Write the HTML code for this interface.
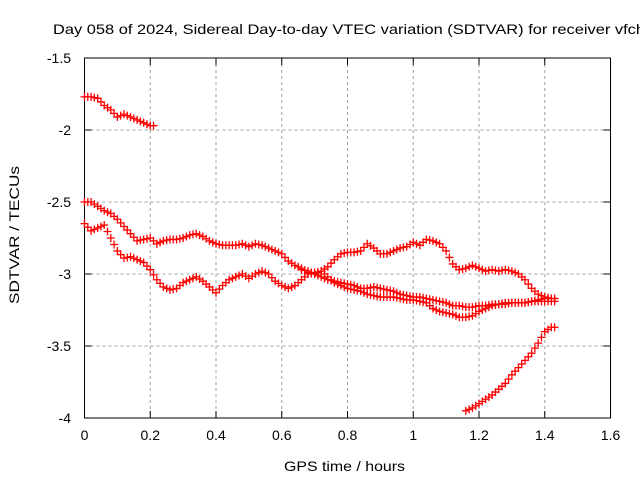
<!DOCTYPE html>
<html><head><meta charset="utf-8"><style>
body{margin:0;background:#fff;}
svg{display:block;font-family:"Liberation Sans",sans-serif;}
</style></head><body>
<svg id="c" width="640" height="480"></svg>
<script>
const xTicks=[0,0.2,0.4,0.6,0.8,1,1.2,1.4,1.6];
const xTickLabels=["0","0.2","0.4","0.6","0.8","1","1.2","1.4","1.6"];
const yTicks=[-1.5,-2,-2.5,-3,-3.5,-4];
const yTickLabels=["-1.5","-2","-2.5","-3","-3.5","-4"];
const s1x=[0,0.02,0.04,0.06,0.08,0.1,0.12,0.14,0.16,0.18,0.2];
const s1y=[-1.77,-1.77,-1.78,-1.83,-1.86,-1.91,-1.89,-1.91,-1.93,-1.95,-1.97];
const s2x=[0,0.02,0.04,0.06,0.08,0.1,0.12,0.14,0.16,0.18,0.2,0.22,0.24,0.26,0.28,0.3,0.32,0.34,0.36,0.38,0.4,0.42,0.44,0.46,0.48,0.5,0.52,0.54,0.56,0.58,0.6,0.62,0.64,0.66,0.68,0.7,0.72,0.74,0.76,0.78,0.8,0.82,0.84,0.86,0.88,0.9,0.92,0.94,0.96,0.98,1,1.02,1.04,1.06,1.08,1.1,1.12,1.14,1.16,1.18,1.2,1.22,1.24,1.26,1.28,1.3,1.32,1.34,1.36,1.38,1.4,1.42];
const s2y=[-2.5,-2.5,-2.53,-2.56,-2.58,-2.62,-2.67,-2.72,-2.77,-2.76,-2.75,-2.79,-2.77,-2.76,-2.76,-2.75,-2.73,-2.72,-2.74,-2.77,-2.79,-2.8,-2.8,-2.8,-2.79,-2.81,-2.79,-2.8,-2.82,-2.84,-2.86,-2.91,-2.94,-2.96,-2.99,-3.0,-2.98,-2.95,-2.9,-2.86,-2.85,-2.85,-2.84,-2.79,-2.82,-2.86,-2.86,-2.84,-2.82,-2.81,-2.78,-2.8,-2.76,-2.77,-2.79,-2.84,-2.93,-2.97,-2.96,-2.94,-2.96,-2.98,-2.97,-2.98,-2.97,-2.98,-3.0,-3.04,-3.1,-3.14,-3.16,-3.17];
const s3x=[0,0.02,0.04,0.06,0.08,0.1,0.12,0.14,0.16,0.18,0.2,0.22,0.24,0.26,0.28,0.3,0.32,0.34,0.36,0.38,0.4,0.42,0.44,0.46,0.48,0.5,0.52,0.54,0.56,0.58,0.6,0.62,0.64,0.66,0.68,0.7,0.72,0.74,0.76,0.78,0.8,0.82,0.84,0.86,0.88,0.9,0.92,0.94,0.96,0.98,1,1.02,1.04,1.06,1.08,1.1,1.12,1.14,1.16,1.18,1.2,1.22,1.24,1.26,1.28,1.3,1.32,1.34,1.36,1.38,1.4,1.42];
const s3y=[-2.65,-2.7,-2.68,-2.66,-2.75,-2.84,-2.89,-2.88,-2.9,-2.92,-2.97,-3.04,-3.09,-3.11,-3.1,-3.06,-3.04,-3.02,-3.05,-3.09,-3.13,-3.08,-3.04,-3.02,-3.0,-3.03,-3.0,-2.98,-3.0,-3.05,-3.08,-3.1,-3.08,-3.04,-3.0,-2.99,-2.98,-3.02,-3.06,-3.08,-3.1,-3.11,-3.12,-3.14,-3.15,-3.16,-3.16,-3.16,-3.17,-3.18,-3.18,-3.19,-3.2,-3.24,-3.26,-3.27,-3.28,-3.3,-3.3,-3.29,-3.26,-3.24,-3.22,-3.21,-3.21,-3.2,-3.2,-3.2,-3.19,-3.19,-3.19,-3.19];
const s4x=[0.66,0.68,0.7,0.72,0.74,0.76,0.78,0.8,0.82,0.84,0.86,0.88,0.9,0.92,0.94,0.96,0.98,1,1.02,1.04,1.06,1.08,1.1,1.12,1.14,1.16,1.18,1.2,1.22,1.24,1.26,1.28,1.3,1.32,1.34,1.36,1.38,1.4,1.42];
const s4y=[-2.97,-2.98,-3.0,-3.02,-3.04,-3.05,-3.06,-3.07,-3.08,-3.1,-3.1,-3.09,-3.1,-3.11,-3.12,-3.14,-3.15,-3.16,-3.16,-3.17,-3.18,-3.19,-3.2,-3.22,-3.22,-3.23,-3.23,-3.22,-3.22,-3.21,-3.21,-3.2,-3.2,-3.2,-3.2,-3.19,-3.18,-3.17,-3.17];
const s5x=[1.16,1.18,1.2,1.22,1.24,1.26,1.28,1.3,1.32,1.34,1.36,1.38,1.4,1.42];
const s5y=[-3.95,-3.93,-3.9,-3.87,-3.84,-3.8,-3.76,-3.7,-3.65,-3.6,-3.55,-3.48,-3.4,-3.37];
const NS="http://www.w3.org/2000/svg";
const svg=document.getElementById('c');
const X0=84.5,XW=526,Y0=418,YH=360;
const xs=v=>X0+(v/1.6)*XW;
const ys=v=>Y0-((v+4)/2.5)*YH;
function el(t,a,p){const e=document.createElementNS(NS,t);for(const k in a)e.setAttribute(k,a[k]);(p||svg).appendChild(e);return e;}
const grid=el('g',{});


xTicks.forEach((v,i)=>{
 if(i>0&&i<xTicks.length-1){const l=el('line',{x1:xs(v),x2:xs(v),y1:ys(-1.5),y2:ys(-4),stroke:'#a0a0a0','stroke-dasharray':'3,3'},grid);}
 const t=el('text',{x:xs(v),y:440,'text-anchor':'middle','font-size':14,fill:'#000'});t.textContent=xTickLabels[i];
 
 el('line',{x1:xs(v),x2:xs(v),y1:Y0,y2:Y0-7,stroke:'#000'});el('line',{x1:xs(v),x2:xs(v),y1:ys(-1.5),y2:ys(-1.5)+7,stroke:'#000'});
});
yTicks.forEach((v,i)=>{
 if(i>0&&i<yTicks.length-1){const l=el('line',{x1:X0,x2:X0+XW,y1:ys(v),y2:ys(v),stroke:'#a0a0a0','stroke-dasharray':'3,3'},grid);}
 const t=el('text',{x:71,y:ys(v)+5,'text-anchor':'end','font-size':14,fill:'#000'});t.textContent=yTickLabels[i];
 
 el('line',{x1:X0,x2:X0+7,y1:ys(v),y2:ys(v),stroke:'#000'});el('line',{x1:X0+XW,x2:X0+XW-7,y1:ys(v),y2:ys(v),stroke:'#000'});
});
const fr=el('rect',{x:X0,y:ys(-1.5),width:XW,height:YH,fill:'none',stroke:'#000'});

[[s1x,s1y],[s2x,s2y],[s3x,s3y],[s4x,s4y],[s5x,s5y]].forEach((s,k)=>{
 const g=el('g',{stroke:'#ff0000','stroke-width':1.3});
 
 s[0].forEach((xv,i)=>{
  for(const d of [0,0.01]){const px=xs(xv+d),py=ys(s[1][i]+(i+1<s[1].length?(s[1][i+1]-s[1][i])*d/0.02:0));
   const p=el('path',{d:`M${px-4},${py}h8M${px},${py-4}v8`},g);
   }
 });
});
const tt=el('text',{x:53,y:34,'text-anchor':'start','font-size':14,textLength:592,lengthAdjust:'spacingAndGlyphs'});tt.textContent='Day 058 of 2024, Sidereal Day-to-day VTEC variation (SDTVAR) for receiver vfch';

const xt=el('text',{x:284,y:471,'text-anchor':'start','font-size':14,textLength:121,lengthAdjust:'spacingAndGlyphs'});xt.textContent='GPS time / hours';

const yt=el('text',{x:-69,y:0,'text-anchor':'start','font-size':14,textLength:138,lengthAdjust:'spacingAndGlyphs',transform:'translate(19,235) rotate(-90)'});yt.textContent='SDTVAR / TECUs';

</script>
</body></html>
